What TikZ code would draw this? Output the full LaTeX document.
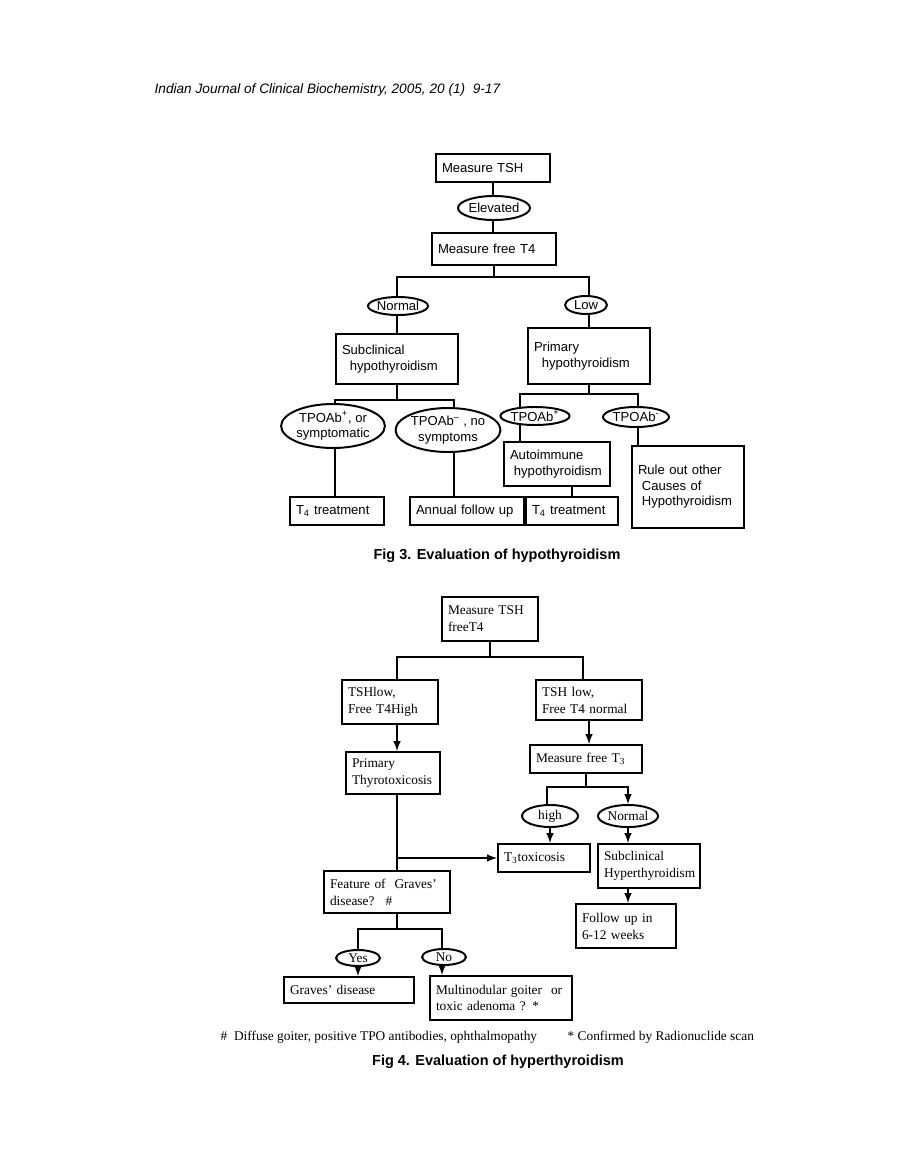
\documentclass[tikz,border=0pt]{standalone}
\usepackage{fontspec}
\setmainfont{Liberation Sans}
\newfontfamily\timesfam{Liberation Serif}
\usetikzlibrary{shapes.geometric,backgrounds}

\begin{document}
\begin{tikzpicture}[x=0.025cm,y=-0.025cm,>=latex,line width=1.4pt,
  bx/.style 2 args={draw,rectangle,align=left,inner xsep=0.15cm,inner ysep=0pt,
    /utils/exec={\pgfmathsetlengthmacro\bxw{(#1-12)*0.025cm}},
    text width=\bxw,minimum height=#2*0.025cm},
  el/.style 2 args={draw,ellipse,fill=white,inner sep=0pt,align=center,
    minimum width=#1*0.025cm,minimum height=#2*0.025cm},
  hypo/.style={font=\fontsize{9.3}{11}\selectfont},
  hyper/.style={font=\timesfam\fontsize{9.5}{12}\selectfont},
  figcap/.style={font=\bfseries\fontsize{10.3}{12}\selectfont}]
\useasboundingbox (0,0) rectangle (918,1176);

\node[anchor=west,font=\itshape\fontsize{9.7}{12}\selectfont] (hdr) at (149,90)
  {Indian Journal of Clinical Biochemistry, 2005, 20 (1) ~9-17};

% Fig 3
\begin{scope}[every node/.append style=hypo]
\node[bx={114}{28}] (tsh) at (493,168) {Measure TSH};
\node[el={70}{24}] (elev) at (494,208) {Elevated};
\node[bx={124}{32}] (ft4) at (494,249) {Measure free T4};
\node[el={60}{18}] (normal) at (398,306) {Normal};
\node[el={42}{18}] (low) at (586,305) {Low};
\node[bx={122}{50}] (subcl) at (397,359) {Subclinical\\\hspace*{0.6em}hypothyroidism};
\node[bx={122}{56}] (primary) at (589,356) {Primary\\\hspace*{0.6em}hypothyroidism};
\node[el={94}{44}] (tpoa) at (333,426) {TPOAb\textsuperscript{+}, or\\symptomatic};
\node[el={94}{44}] (tpob) at (448,430) {TPOAb\textsuperscript{--} , no\\symptoms};
\node[el={68}{18}] (tpoc) at (535,416) {TPOAb\textsuperscript{+}};
\node[el={56}{20}] (tpod) at (636,417) {TPOAb\textsuperscript{-}};
\node[bx={106}{44}] (autoimm) at (557,464) {Autoimmune\\\hspace*{0.3em}hypothyroidism};
\node[bx={112}{82}] (ruleout) at (688,487) {Rule out other\\\hspace*{0.3em}Causes of\\\hspace*{0.3em}Hypothyroidism};
\node[bx={94}{28}] (t4a) at (337,511) {T\textsubscript{4} treatment};
\node[bx={114}{28}] (annual) at (467,511) {Annual follow up};
\node[bx={92}{28}] (t4b) at (572,511) {T\textsubscript{4} treatment};
\end{scope}
\coordinate (a1) at (397,277);
\coordinate (a2) at (589,277);
\coordinate (b1) at (335,400);
\coordinate (b2) at (454,400);
\coordinate (c1) at (520,394);
\coordinate (c2) at (638,394);
\begin{scope}[on background layer,every path/.append style={line width=1.4pt}]
\draw (tsh.south) -- (tsh.south |- ft4.north);
\draw (ft4.south) -- (ft4.south |- a1);
\draw (a1 |- subcl.north) -- (a1) -- (a2) -- (a2 |- primary.north);
\draw (subcl.south) -- (subcl.south |- b1);
\draw (b1 |- t4a.north) -- (b1) -- (b2) -- (b2 |- annual.north);
\draw (primary.south) -- (primary.south |- c1);
\draw (c1 |- autoimm.north) -- (c1) -- (c2) -- (c2 |- ruleout.north);
\draw (t4b.north) -- (t4b.north |- autoimm.south);
\end{scope}
\node[figcap] (cap3) at (497,556) {Fig 3. Evaluation of hypothyroidism};

% Fig 4
\begin{scope}[every node/.append style=hyper]
\node[bx={96}{44}] (m) at (490,619) {Measure TSH\\freeT4};
\node[bx={96}{44}] (hi) at (390,702) {TSHlow,\\Free T4High};
\node[bx={106}{40}] (nl) at (589,700) {TSH low,\\Free T4 normal};
\node[bx={94}{42}] (prim) at (393,773) {Primary\\Thyrotoxicosis};
\node[bx={112}{28}] (mt3) at (586,759) {Measure free T\textsubscript{3}};
\node[el={56}{22}] (high) at (550,816) {high};
\node[el={60}{22}] (nrm) at (628,816) {Normal};
\node[bx={92}{28}] (t3tox) at (544,858) {T\textsubscript{3}toxicosis};
\node[bx={102}{44}] (subhyp) at (649,866) {Subclinical\\Hyperthyroidism};
\node[bx={100}{44}] (fu) at (626,926) {Follow up in\\6-12 weeks};
\node[bx={126}{42}] (feat) at (387,892) {Feature of \ Graves’\\disease? \ \#};
\node[el={44}{16}] (yes) at (358,958) {Yes};
\node[el={44}{16}] (no) at (444,957) {No};
\node[bx={130}{26}] (graves) at (349,990) {Graves’ disease};
\node[bx={142}{44}] (multi) at (501,998) {Multinodular goiter \ or\\toxic adenoma ? *};
\node[anchor=west] (fn1) at (215,1037) {\# \ Diffuse goiter, positive TPO antibodies, ophthalmopathy};
\node[anchor=west] (fn2) at (562,1037) {* Confirmed by Radionuclide scan};
\end{scope}
\coordinate (d1) at (397,657);
\coordinate (d2) at (583,657);
\coordinate (g1) at (547,787);
\coordinate (g2) at (628,787);
\coordinate (f1) at (358,929);
\coordinate (f2) at (442,929);
\draw (m.south) -- (m.south |- d1);
\draw (d1 |- hi.north) -- (d1) -- (d2) -- (d2 |- nl.north);
\draw[->] (d1 |- hi.south) -- (d1 |- prim.north);
\draw (d1 |- prim.south) -- (d1 |- feat.north);
\draw[->] (d1 |- t3tox.west) -- (t3tox.west);
\draw[->] (nl.south) -- (nl.south |- mt3.north);
\draw (mt3.south) -- (mt3.south |- g1);
\draw[->] (g1 |- high.north) -- (g1) -- (g2) -- (nrm.north);
\draw[->] (high.south) -- (high.south |- t3tox.north);
\draw[->] (nrm.south) -- (nrm.south |- subhyp.north);
\draw[->] (nrm.south |- subhyp.south) -- (nrm.south |- fu.north);
\draw (d1 |- feat.south) -- (d1 |- f1);
\draw (f1 |- yes.north) -- (f1) -- (f2) -- (f2 |- no.north);
\draw[->] (yes.south) -- (yes.south |- graves.north);
\draw[->] (f2 |- no.south) -- (f2 |- multi.north);
\node[figcap] (cap4) at (498,1062) {Fig 4. Evaluation of hyperthyroidism};
\end{tikzpicture}
\end{document}
